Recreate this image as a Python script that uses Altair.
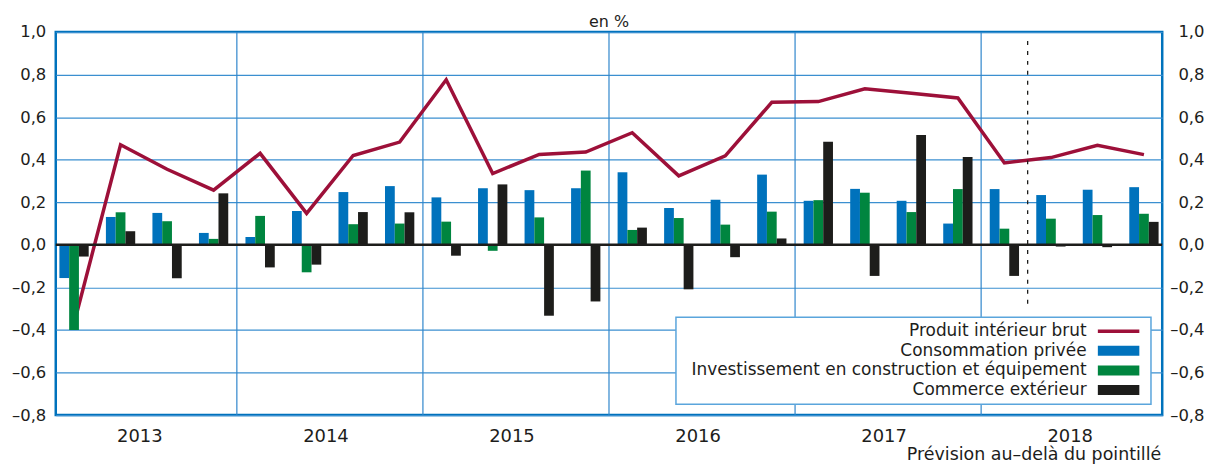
import altair as alt
import pandas as pd

# ---------------- data ----------------
years = [2013, 2014, 2015, 2016, 2017, 2018]
quarters = [f"{y}T{q}" for y in years for q in range(1, 5)]

series_names = [
    "Produit intérieur brut",
    "Consommation privée",
    "Investissement en construction et équipement",
    "Commerce extérieur",
]

gdp = [-0.37, 0.47, 0.355, 0.257, 0.43, 0.148, 0.42, 0.483,
       0.776, 0.335, 0.425, 0.436, 0.527, 0.324, 0.418, 0.67,
       0.673, 0.733, 0.712, 0.69, 0.385, 0.41, 0.468, 0.424]
consumption = [-0.156, 0.131, 0.15, 0.056, 0.037, 0.159, 0.248, 0.276,
               0.223, 0.266, 0.257, 0.266, 0.341, 0.173, 0.212, 0.33,
               0.207, 0.263, 0.207, 0.1, 0.262, 0.234, 0.259, 0.271]
investment = [-0.40, 0.153, 0.111, 0.028, 0.136, -0.129, 0.097, 0.1,
              0.109, -0.028, 0.129, 0.349, 0.07, 0.126, 0.095, 0.156,
              0.21, 0.245, 0.154, 0.262, 0.076, 0.123, 0.14, 0.146]
trade = [-0.055, 0.064, -0.157, 0.242, -0.106, -0.093, 0.154, 0.153,
         -0.051, 0.284, -0.333, -0.266, 0.081, -0.209, -0.058, 0.03,
         0.485, -0.146, 0.516, 0.413, -0.146, -0.008, -0.011, 0.108]

forecast_from = "2018T2"  # forecast beyond the dotted line
y_ticks = [-0.8, -0.6, -0.4, -0.2, 0.0, 0.2, 0.4, 0.6, 0.8, 1.0]

# ---------------- styles ----------------
RED = "#9d1039"
BLUE = "#0072bc"
GREEN = "#00853f"
BLACK = "#1d1d1b"
GRID = "#3b8fd0"
TXT = "#1d1d1b"
FONT = "DejaVu Sans"
BAR_W = 0.21
W, H = 1112, 385

# ---------------- tables ----------------
qidx = list(range(len(quarters)))
line_df = pd.DataFrame({"q": qidx, "quarter": quarters, "value": gdp})

bar_rows = []
for k, (name, vals) in enumerate(zip(series_names[1:], [consumption, investment, trade])):
    for i, v in enumerate(vals):
        bar_rows.append({"q": i, "k": k, "series": name, "value": v})
bar_df = pd.DataFrame(bar_rows)

year_df = pd.DataFrame({"i": list(range(len(years))), "year": [str(y) for y in years]})
bound_df = pd.DataFrame({"b": [4 * i for i in range(1, len(years))]})
fc_df = pd.DataFrame({"f": [quarters.index(forecast_from)]})
leg_df = pd.DataFrame({"row": list(range(len(series_names))), "series": series_names})
one = pd.DataFrame({"a": [0]})

xscale = alt.Scale(domain=[0.107, len(quarters) - 0.107], nice=False, zero=False)
yscale = alt.Scale(domain=[-0.8, 1.0], nice=False, zero=False)
cscale = alt.Scale(domain=series_names, range=[RED, BLUE, GREEN, BLACK])

label_expr = ("replace(replace(replace(format(datum.value, '.1f'), '\u2212', '\u2013'), "
              "'-', '\u2013'), '.', ',')")

left_axis = alt.Axis(values=y_ticks, labelExpr=label_expr, grid=True, gridColor=GRID,
                     gridWidth=1.2, ticks=False, domain=False, title=None,
                     labelFontSize=16.5, labelColor=TXT, labelPadding=10, orient="left")
right_axis = alt.Axis(values=y_ticks, labelExpr=label_expr, grid=False, ticks=False,
                      domain=False, title=None, labelFontSize=16.5, labelColor=TXT,
                      labelPadding=42, labelAlign="right", orient="right")

bounds = alt.Chart(bound_df).mark_rule(color="#2f86cc", strokeWidth=1.2).encode(
    x=alt.X("b:Q", scale=xscale, axis=None)
)

line = alt.Chart(line_df).transform_calculate(xc="datum.q + 0.5").mark_line(
    color=RED, strokeWidth=3.5, strokeJoin="miter"
).encode(
    x=alt.X("xc:Q", scale=xscale, axis=None),
    y=alt.Y("value:Q", scale=yscale, axis=right_axis),
)

bars = alt.Chart(bar_df).transform_calculate(
    x0=f"datum.q + 0.5 + (datum.k - 1.5) * {BAR_W}",
    x1=f"datum.q + 0.5 + (datum.k - 0.5) * {BAR_W}",
).mark_bar().encode(
    x=alt.X("x0:Q", scale=xscale, axis=None),
    x2="x1:Q",
    y=alt.Y("value:Q", scale=yscale, axis=left_axis),
    y2=alt.datum(0),
    color=alt.Color("series:N", scale=cscale, legend=None),
)

zero = alt.Chart(one).transform_calculate(z="0").mark_rule(color=BLACK, strokeWidth=2.5).encode(
    y=alt.Y("z:Q", scale=yscale, axis=None)
)

forecast = alt.Chart(fc_df).mark_rule(color=BLACK, strokeWidth=1.3, strokeDash=[4, 6]).encode(
    x=alt.X("f:Q", scale=xscale, axis=None),
    y=alt.value(9),
    y2=alt.value(277),
)

year_txt = alt.Chart(year_df).transform_calculate(xc="datum.i * 4 + 2").mark_text(
    align="center", baseline="alphabetic", fontSize=18, color=TXT, dx=-4
).encode(
    x=alt.X("xc:Q", scale=xscale, axis=None),
    y=alt.value(411.7),
    text="year:N",
)

leg_box = alt.Chart(one).mark_rect(fill="white", stroke="#5aa5dc", strokeWidth=1.5).encode(
    x=alt.value(623.3), x2=alt.value(1100.7), y=alt.value(286.7), y2=alt.value(374)
)

leg_sw = alt.Chart(leg_df).transform_calculate(
    yc="300.7 + 19.7 * datum.row",
    h="datum.row == 0 ? 1.8 : 5",
    ya="datum.yc - datum.h",
    yb="datum.yc + datum.h",
).mark_rect().encode(
    x=alt.value(1047.3), x2=alt.value(1089),
    y=alt.Y("ya:Q", scale=None), y2="yb:Q",
    color=alt.Color("series:N", scale=cscale, legend=None),
)

leg_txt = alt.Chart(leg_df).transform_calculate(
    yc="300.7 + 19.7 * datum.row"
).mark_text(align="right", baseline="middle", fontSize=17, color=TXT).encode(
    x=alt.value(1036), y=alt.Y("yc:Q", scale=None), text="series:N"
)

unit = alt.Chart(one).mark_text(align="center", baseline="middle", fontSize=16, color=TXT).encode(
    x=alt.value(W / 2), y=alt.value(-10), text=alt.value("en %")
)
note = alt.Chart(one).mark_text(align="right", baseline="alphabetic", fontSize=17.5, color=TXT).encode(
    x=alt.value(1111), y=alt.value(429.7), text=alt.value("Prévision au\u2013delà du pointillé")
)

chart = alt.layer(
    bounds, line, bars, zero, forecast, year_txt, leg_box, leg_sw, leg_txt, unit, note
).resolve_scale(y="shared").resolve_axis(y="independent").properties(
    width=W, height=H,
    autosize=alt.AutoSizeParams(type="none"),
    padding={"left": 48, "top": 23, "right": 45, "bottom": 48},
).configure(font=FONT).configure_view(stroke=BLUE, strokeWidth=2.5)

chart.save("out.html", embed_options={"renderer": "svg", "actions": False})
